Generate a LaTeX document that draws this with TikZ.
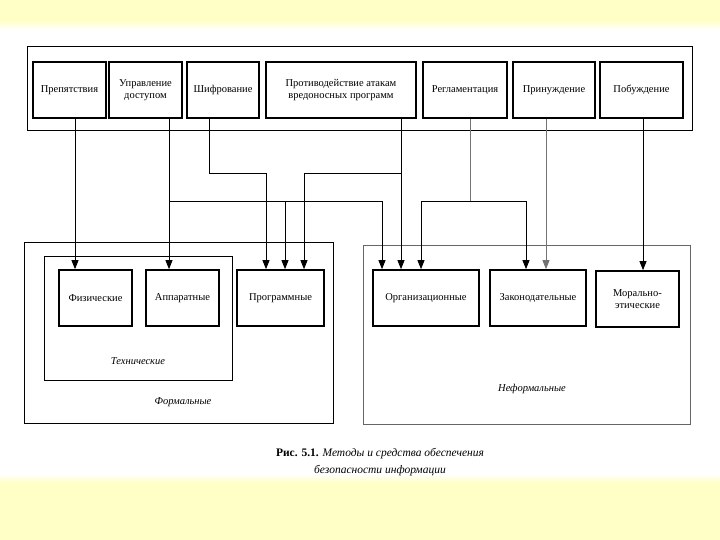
\documentclass[tikz,border=0pt]{standalone}
\usepackage{fontspec}
\setmainfont{Liberation Serif}
\usetikzlibrary{arrows.meta}
\definecolor{slideyellow}{RGB}{255,255,198}

\begin{document}
\begin{tikzpicture}[x=1pt, y=-1pt,
  box/.style={draw, line width=1.7pt, inner sep=2pt, align=center,
    minimum height=56pt, font=\fontsize{10.5}{12.5}\selectfont},
  arr/.style={-{Triangle[length=9pt,width=7pt]}, line width=0.8pt},
  con/.style={line width=0.8pt},
  frame/.style={line width=0.9pt},
  lbl/.style={font=\fontsize{10.5}{12}\selectfont\itshape}]

  % Fond
  \useasboundingbox (0,0) rectangle (720,540);
  \fill[white] (0,0) rectangle (720,540);
  \fill[slideyellow] (0,0) rectangle (720,20);
  \shade[top color=slideyellow, bottom color=white] (0,20) rectangle (720,30);
  \shade[top color=white, bottom color=slideyellow] (0,474) rectangle (720,483);
  \fill[slideyellow] (0,483) rectangle (720,540);

  % Cadres
  \draw[frame] (27,46) rectangle (692,130);
  \draw[frame] (24,242) rectangle (333,423);
  \draw[frame] (44,256) rectangle (232,380);
  \draw[frame, black!60] (363,245) rectangle (690,424);

  % Methodes
  \node[box, minimum width=73pt] (prep) at (69.5,90) {Препятствия};
  \node[box, minimum width=73pt] (upr) at (145.5,90) {Управление\\доступом};
  \node[box, minimum width=72pt] (shif) at (223,90) {Шифрование};
  \node[box, minimum width=150pt] (prot) at (341,90) {Противодействие атакам\\вредоносных программ};
  \node[box, minimum width=84pt] (regl) at (465,90) {Регламентация};
  \node[box, minimum width=82pt] (prin) at (554,90) {Принуждение};
  \node[box, minimum width=83pt] (pob) at (641.5,90) {Побуждение};

  % Moyens
  \node[box, minimum width=73pt] (fiz) at (95.5,298) {Физические};
  \node[box, minimum width=73pt] (app) at (182.5,298) {Аппаратные};
  \node[box, minimum width=87pt] (prog) at (280.5,298) {Программные};
  \node[box, minimum width=106pt] (org) at (426,298) {Организационные};
  \node[box, minimum width=96pt] (zak) at (538,298) {Законодательные};
  \node[box, minimum width=83pt] (mor) at (637.5,299) {Морально-\\этические};

  % Etiquettes des groupes
  \node[lbl] (tech) at (138,361) {Технические};
  \node[lbl] (form) at (183,402) {Формальные};
  \node[lbl] (neform) at (532,389) {Неформальные};

  % Points de branchement
  \coordinate (jupr) at (169,201);
  \coordinate (jprot) at (401,173);
  \coordinate (jregl) at (470,201);

  % Liaisons
  \draw[arr] (prep.south -| 75,0) -- (fiz.north -| 75,0);
  \draw[arr] (upr.south -| 169,0) -- (app.north -| 169,0);
  \draw[arr] (jupr) -| (prog.north -| 285,0);
  \draw[arr] (jupr) -| (org.north -| 382,0);
  \draw[arr] (shif.south -| 209,0) |- (266,173) -- (prog.north -| 266,0);
  \draw[arr] (prot.south -| 401,0) -- (org.north -| 401,0);
  \draw[arr] (jprot) -| (prog.north -| 304,0);
  \draw[con, black!55] (regl.south -| 470,0) -- (jregl);
  \draw[arr] (jregl) -| (org.north -| 421,0);
  \draw[arr] (jregl) -| (zak.north -| 526,0);
  \draw[arr, black!55] (prin.south -| 546,0) -- (zak.north -| 546,0);
  \draw[arr] (pob.south -| 643,0) -- (mor.north -| 643,0);

  % Legende
  \node[align=center, font=\fontsize{11.5}{17}\selectfont] (legende) at (380,462)
    {\textbf{Рис. 5.1.} \textit{Методы и средства обеспечения}\\\textit{безопасности информации}};

\end{tikzpicture}
\end{document}
